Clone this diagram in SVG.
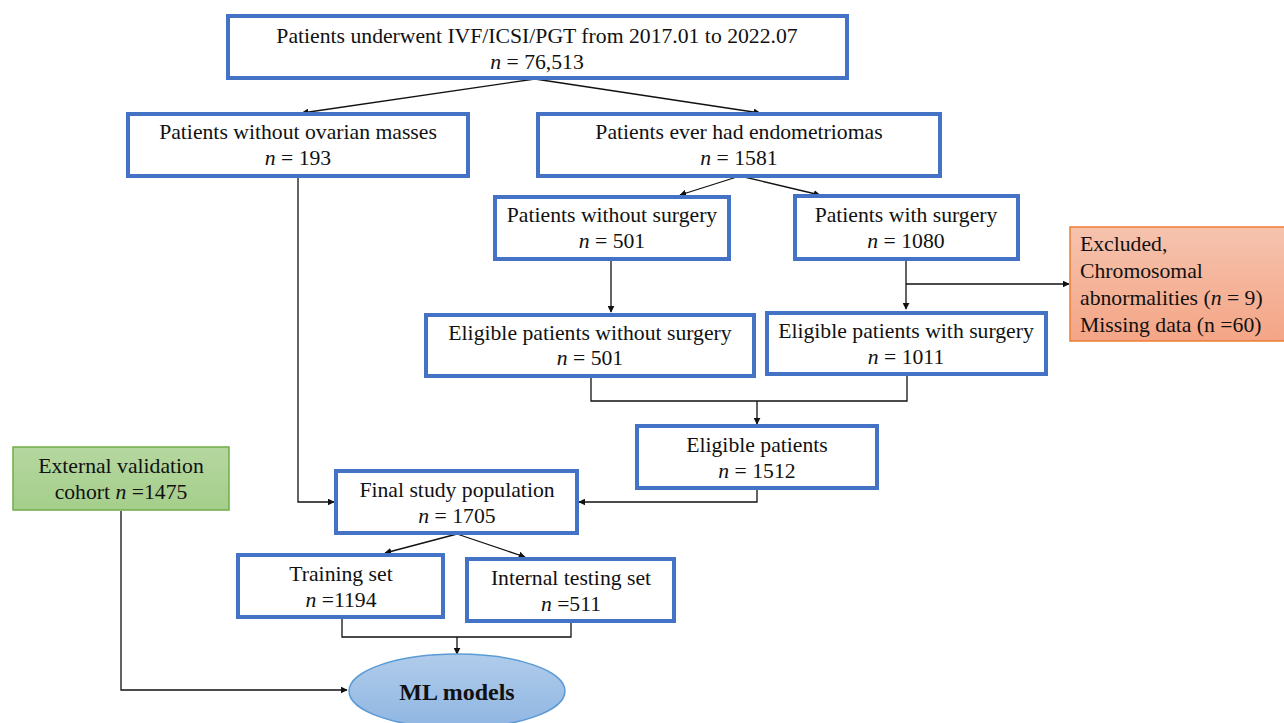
<svg xmlns="http://www.w3.org/2000/svg" width="1284" height="723" viewBox="0 0 1284 723">
<defs>
<style>
.box{fill:#fff;stroke:#4472C4;stroke-width:4}
.t{font-family:"Liberation Serif","Times New Roman",serif;font-size:21.7px;fill:#111;text-anchor:middle}
.tl{text-anchor:start}
.i{font-style:italic}
.ln{fill:none;stroke:#111;stroke-width:1.3}
</style>
<marker id="ah" viewBox="0 0 10 10" refX="9" refY="5" markerWidth="7" markerHeight="7" orient="auto" markerUnits="userSpaceOnUse">
<path d="M0,0 L10,5 L0,10 z" fill="#111"/>
</marker>
<linearGradient id="gex" x1="0" y1="0" x2="0" y2="1">
<stop offset="0" stop-color="#F6C3AE"/>
<stop offset="1" stop-color="#F4A586"/>
</linearGradient>
<linearGradient id="ggr" x1="0" y1="0" x2="0" y2="1">
<stop offset="0" stop-color="#B5D7A0"/>
<stop offset="1" stop-color="#A5CE8A"/>
</linearGradient>
<linearGradient id="gml" x1="0" y1="0" x2="0" y2="1">
<stop offset="0" stop-color="#B1CCEB"/>
<stop offset="1" stop-color="#8FB6E2"/>
</linearGradient>
</defs>
<rect width="1284" height="723" fill="#fff"/>
<g id="connectors">
<path class="ln" d="M535,79 L302,113" marker-end="url(#ah)"/>
<path class="ln" d="M535,79 L760,113" marker-end="url(#ah)"/>
<path class="ln" d="M298,177 L298,502 L334,502" marker-end="url(#ah)"/>
<path class="ln" d="M740,176 L680,195" marker-end="url(#ah)"/>
<path class="ln" d="M740,176 L820,195" marker-end="url(#ah)"/>
<path class="ln" d="M611,260 L611,312" marker-end="url(#ah)"/>
<path class="ln" d="M906,260 L906,309" marker-end="url(#ah)"/>
<path class="ln" d="M906,284 L1069,284" marker-end="url(#ah)"/>
<path class="ln" d="M591,377 L591,401 L907,401 L907,375"/>
<path class="ln" d="M757,401 L757,424" marker-end="url(#ah)"/>
<path class="ln" d="M757,489 L757,502 L579,502" marker-end="url(#ah)"/>
<path class="ln" d="M457,534 L385,553" marker-end="url(#ah)"/>
<path class="ln" d="M457,534 L525,557" marker-end="url(#ah)"/>
<path class="ln" d="M342,618 L342,637 L571,637 L571,622"/>
<path class="ln" d="M457,637 L457,654" marker-end="url(#ah)"/>
<path class="ln" d="M121,511 L121,690 L347,690" marker-end="url(#ah)"/>
</g>
<g id="n1"><rect class="box" x="228" y="16" width="619" height="62"/>
<text class="t" x="537" y="43">Patients underwent IVF/ICSI/PGT from 2017.01 to 2022.07</text>
<text class="t" x="537" y="69"><tspan class="i">n</tspan> = 76,513</text></g>
<g id="n2"><rect class="box" x="128" y="114" width="340" height="62"/>
<text class="t" x="298" y="139">Patients without ovarian masses</text>
<text class="t" x="298" y="165"><tspan class="i">n</tspan> = 193</text></g>
<g id="n3"><rect class="box" x="538" y="114" width="402" height="62"/>
<text class="t" x="739" y="139">Patients ever had endometriomas</text>
<text class="t" x="739" y="165"><tspan class="i">n</tspan> = 1581</text></g>
<g id="n4"><rect class="box" x="495" y="197" width="234" height="62"/>
<text class="t" x="612" y="222">Patients without surgery</text>
<text class="t" x="612" y="248"><tspan class="i">n</tspan> = 501</text></g>
<g id="n5"><rect class="box" x="795" y="196" width="223" height="63"/>
<text class="t" x="906" y="222">Patients with surgery</text>
<text class="t" x="906" y="248"><tspan class="i">n</tspan> = 1080</text></g>
<g id="n_excl"><rect x="1070" y="227" width="216" height="114" fill="url(#gex)" stroke="#ED7D31" stroke-width="1.5"/>
<text class="t tl" x="1080" y="251">Excluded,</text>
<text class="t tl" x="1080" y="278">Chromosomal</text>
<text class="t tl" x="1080" y="305">abnormalities (<tspan class="i">n</tspan> = 9)</text>
<text class="t tl" x="1080" y="332">Missing data (n =60)</text></g>
<g id="n6"><rect class="box" x="426" y="315" width="328" height="61"/>
<text class="t" x="590" y="340">Eligible patients without surgery</text>
<text class="t" x="590" y="365"><tspan class="i">n</tspan> = 501</text></g>
<g id="n7"><rect class="box" x="767" y="313" width="279" height="61"/>
<text class="t" x="906" y="338">Eligible patients with surgery</text>
<text class="t" x="906" y="364"><tspan class="i">n</tspan> = 1011</text></g>
<g id="n8"><rect class="box" x="637" y="426" width="240" height="62"/>
<text class="t" x="757" y="452">Eligible patients</text>
<text class="t" x="757" y="478"><tspan class="i">n</tspan> = 1512</text></g>
<g id="n_ext"><rect x="13" y="447" width="216" height="63" fill="url(#ggr)" stroke="#70AD47" stroke-width="1.5"/>
<text class="t" x="121" y="473">External validation</text>
<text class="t" x="121" y="499">cohort <tspan class="i">n</tspan> =1475</text></g>
<g id="n9"><rect class="box" x="336" y="471" width="241" height="62"/>
<text class="t" x="457" y="497">Final study population</text>
<text class="t" x="457" y="523"><tspan class="i">n</tspan> = 1705</text></g>
<g id="n10"><rect class="box" x="238" y="555" width="205" height="62"/>
<text class="t" x="341" y="581">Training set</text>
<text class="t" x="341" y="607"><tspan class="i">n</tspan> =1194</text></g>
<g id="n11"><rect class="box" x="467" y="559" width="207" height="62"/>
<text class="t" x="571" y="585">Internal testing set</text>
<text class="t" x="571" y="611"><tspan class="i">n</tspan> =511</text></g>
<g id="n_ml"><ellipse cx="457" cy="691" rx="108" ry="37" fill="url(#gml)" stroke="#5B9BD5" stroke-width="1.5"/>
<text class="t" x="457" y="700" style="font-weight:bold;font-size:24px">ML models</text></g>
</svg>
